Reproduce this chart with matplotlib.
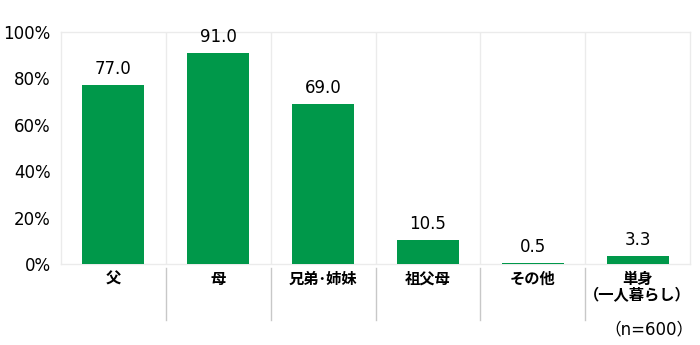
import matplotlib
matplotlib.use("Agg")
import matplotlib.pyplot as plt
from matplotlib.lines import Line2D

plt.rcParams['font.family'] = ['DejaVu Sans', 'Noto Sans CJK JP']
CJK = ['Noto Sans CJK JP', 'DejaVu Sans']

categories = ["父", "母", "兄弟･姉妹", "祖父母", "その他", "単身\n（一人暮らし）"]
values = [77.0, 91.0, 69.0, 10.5, 0.5, 3.3]
yticks = [0, 20, 40, 60, 80, 100]
ytick_labels = ["0%", "20%", "40%", "60%", "80%", "100%"]
note = "（n=600）"

bar_color = "#00984a"
frame_color = "#ebebeb"
sep_color = "#c8c8c8"
text_color = "#000000"

fig = plt.figure(figsize=(7.0, 3.45), dpi=100)
W, H = 700, 345
left, right, top, bottom = 61, 690, 32, 264
ax = fig.add_axes([left / W, 1 - bottom / H, (right - left) / W, (bottom - top) / H])

n = len(categories)
x = list(range(n))
ax.bar(x, values, width=0.59, color=bar_color, zorder=3)
ax.set_xlim(-0.5, n - 0.5)
ax.set_ylim(0, 100)

for s in ax.spines.values():
    s.set_color(frame_color)
    s.set_linewidth(1.0)

for i in range(1, n):
    ax.axvline(i - 0.5, color=frame_color, lw=1.0, zorder=1)

ax.set_yticks(yticks)
ax.set_yticklabels(ytick_labels, fontsize=12, color=text_color)
ax.tick_params(axis='y', length=0, pad=7.5)
ax.set_xticks(x)
ax.set_xticklabels(categories, fontsize=11, fontweight='bold', color=text_color,
                   linespacing=1.05, va='top', family=CJK)
ax.tick_params(axis='x', length=0, pad=5)

for xi, v in zip(x, values):
    ax.annotate(f"{v:.1f}", (xi, v), xytext=(0, 5), textcoords='offset points',
                ha='center', va='bottom', fontsize=12, color=text_color)

# separators below axis
for i in range(1, n):
    xf = (left + (right - left) * i / n) / W
    fig.add_artist(Line2D([xf, xf], [1 - 268 / H, 1 - 320 / H], color=sep_color, lw=1.0))

fig.text(693 / W, 1 - 329 / H, note, ha='right', va='center', fontsize=12,
         color=text_color)

fig.savefig("out.png", dpi=100, facecolor='white')
